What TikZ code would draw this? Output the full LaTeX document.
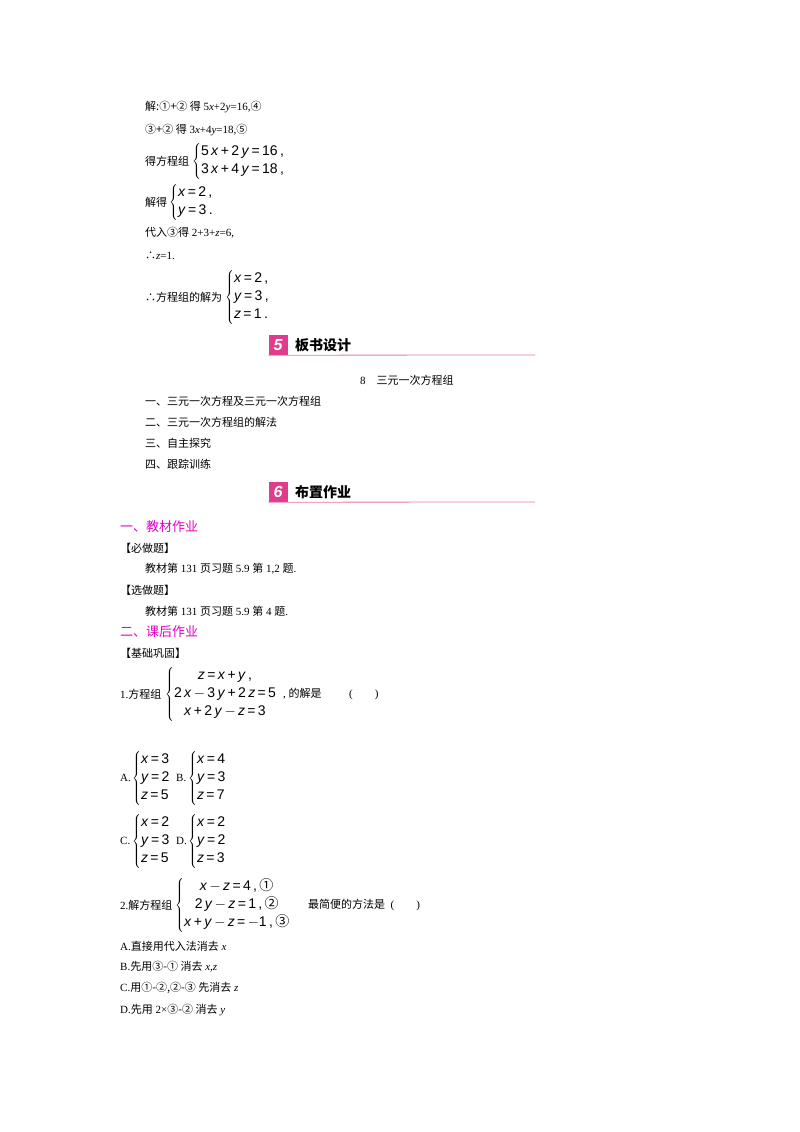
\documentclass[tikz,border=0pt]{standalone}
\usepackage{fontspec}
\setmainfont{Liberation Serif}
\setsansfont{Liberation Sans}
\newfontfamily\cjk{Noto Sans CJK SC}
\definecolor{mag}{RGB}{225,0,200}
\definecolor{pinkline}{RGB}{230,120,170}
\definecolor{badge}{RGB}{225,60,140}
\newcommand\bsys[1]{$\left\{\renewcommand\arraystretch{1.05}\begin{tabular}{@{}l@{}}#1\end{tabular}\right.$}
\newcommand\bsysc[1]{$\left\{\renewcommand\arraystretch{1.05}\begin{tabular}{@{}c@{}}#1\end{tabular}\right.$}
\begin{document}
\begin{tikzpicture}[x=1pt,y=-1pt,
  t/.style={anchor=west,inner sep=0pt,font=\fontsize{11}{12}\selectfont},
  eq/.style={anchor=west,inner sep=0pt,font=\sffamily\fontsize{14}{17}\selectfont},
  hd/.style={anchor=west,inner sep=0pt,font=\cjk\bfseries\fontsize{14}{16}\selectfont},
  mh/.style={anchor=west,inner sep=0pt,text=mag,font=\cjk\fontsize{13}{15}\selectfont},
  bd/.style={fill=badge,text=white,minimum width=19pt,minimum height=20pt,inner sep=0pt,font=\sffamily\bfseries\itshape\fontsize{16}{16}\selectfont}]
\useasboundingbox (0,0) rectangle (800,1132);
\node[t] (l1) at (145,107) {{\cjk 解:①+② 得} 5\textit{x}+2\textit{y}=16,{\cjk ④}};
\node[t] (l2) at (145,130) {{\cjk ③+② 得} 3\textit{x}+4\textit{y}=18,{\cjk ⑤}};
\node[t] (l3) at (145,161) {{\cjk 得方程组}};
\node[eq] (s3) at (192,161) {\bsys{5\,\textit{x}\,+\,2\,\textit{y}\,=\,16\,,\\3\,\textit{x}\,+\,4\,\textit{y}\,=\,18\,,}};
\node[t] (l4) at (145,202) {{\cjk 解得}};
\node[eq] (s4) at (169,202) {\bsys{\textit{x}\,=\,2\,,\\\textit{y}\,=\,3\,.}};
\node[t] (l5) at (145,233) {{\cjk 代入③得} 2+3+\textit{z}=6,};
\node[t] (l6) at (145,256) {{\cjk ∴}\textit{z}=1.};
\node[t] (l7) at (145,297) {{\cjk ∴方程组的解为}};
\node[eq] (s7) at (225,297) {\bsys{\textit{x}\,=\,2\,,\\\textit{y}\,=\,3\,,\\\textit{z}\,=\,1\,.}};
% header 5
\node[bd] (b5) at (278,345) {5};
\node[hd] (h5) at (295,345) {{\cjk 板书设计}};
\draw[pinkline,line width=0.8pt] (b5.south west) -- (535,355);
\node[t] (c8) at (360,380) {8\quad{\cjk 三元一次方程组}};
\node[t] (p1) at (145,401) {\cjk 一、三元一次方程及三元一次方程组};
\node[t] (p2) at (145,422) {\cjk 二、三元一次方程组的解法};
\node[t] (p3) at (145,443) {\cjk 三、自主探究};
\node[t] (p4) at (145,464) {\cjk 四、跟踪训练};
% header 6
\node[bd] (b6) at (278,492) {6};
\node[hd] (h6) at (295,492) {{\cjk 布置作业}};
\draw[pinkline,line width=0.8pt] (b6.south west) -- (535,502);
\node[mh] (m1) at (120,527) {一、教材作业};
\node[t] (k1) at (120,548) {\cjk 【必做题】};
\node[t] (k2) at (145,569) {{\cjk 教材第} 131 {\cjk 页习题} 5.9 {\cjk 第} 1,2 {\cjk 题}.};
\node[t] (k3) at (120,590) {\cjk 【选做题】};
\node[t] (k4) at (145,611) {{\cjk 教材第} 131 {\cjk 页习题} 5.9 {\cjk 第} 4 {\cjk 题}.};
\node[mh] (m2) at (120,632) {二、课后作业};
\node[t] (k5) at (120,653) {\cjk 【基础巩固】};
\node[t] (q1) at (120,694) {1.{\cjk 方程组}};
\node[eq] (s8) at (165,694) {\bsysc{\textit{z}\,=\,\textit{x}\,+\,\textit{y}\,,\\2\,\textit{x}\,$-$\,3\,\textit{y}\,+\,2\,\textit{z}\,=\,5\\\textit{x}\,+\,2\,\textit{y}\,$-$\,\textit{z}\,=\,3}};
\node[t] (q1b) at (283,694) {, {\cjk 的解是}\qquad\ \ (\qquad)};
\node[t] (oA) at (120,778) {A.};
\node[eq] (sA) at (132,778) {\bsys{\textit{x}\,=\,3\\\textit{y}\,=\,2\\\textit{z}\,=\,5}};
\node[t] (oB) at (176,778) {B.};
\node[eq] (sB) at (188,778) {\bsys{\textit{x}\,=\,4\\\textit{y}\,=\,3\\\textit{z}\,=\,7}};
\node[t] (oC) at (120,841) {C.};
\node[eq] (sC) at (132,841) {\bsys{\textit{x}\,=\,2\\\textit{y}\,=\,3\\\textit{z}\,=\,5}};
\node[t] (oD) at (176,841) {D.};
\node[eq] (sD) at (188,841) {\bsys{\textit{x}\,=\,2\\\textit{y}\,=\,2\\\textit{z}\,=\,3}};
\node[t] (q2) at (120,905) {2.{\cjk 解方程组}};
\node[eq] (s9) at (175,905) {\bsysc{\textit{x}\,$-$\,\textit{z}\,=\,4\,,\,{\cjk ①}\\2\,\textit{y}\,$-$\,\textit{z}\,=\,1\,,\,{\cjk ②}\\\textit{x}\,+\,\textit{y}\,$-$\,\textit{z}\,=\,$-$1\,,\,{\cjk ③}}};
\node[t] (q2b) at (308,905) {{\cjk 最简便的方法是}\ \ (\qquad)};
\node[t] (a1) at (120,946) {A.{\cjk 直接用代入法消去} \textit{x}};
\node[t] (a2) at (120,967) {B.{\cjk 先用③-① 消去} \textit{x},\textit{z}};
\node[t] (a3) at (120,988) {C.{\cjk 用①-②,②-③ 先消去} \textit{z}};
\node[t] (a4) at (120,1010) {D.{\cjk 先用} 2×{\cjk ③-② 消去} \textit{y}};
\end{tikzpicture}
\end{document}
